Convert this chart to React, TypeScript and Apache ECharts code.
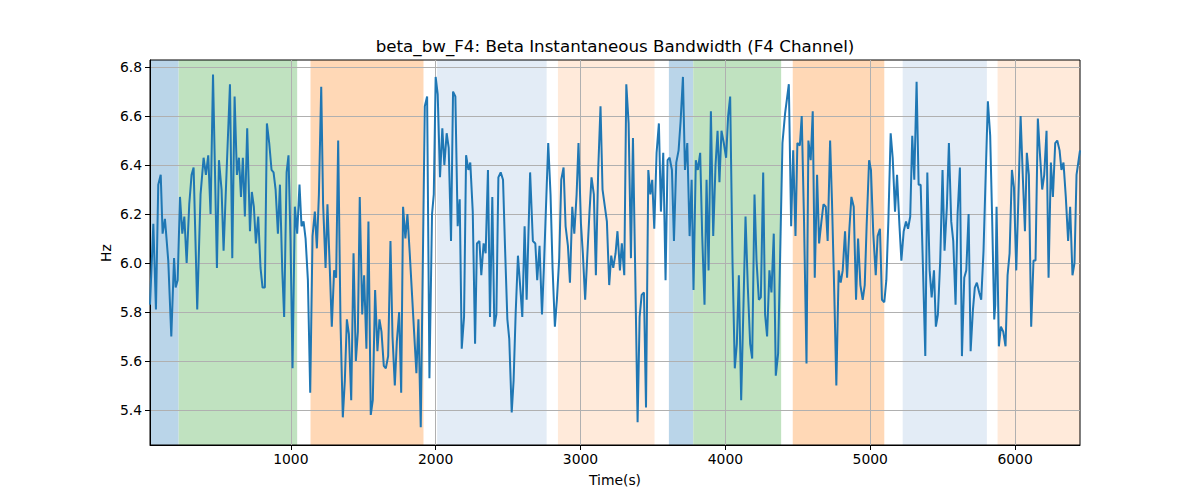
import React, { useEffect, useRef } from "react";
import * as echarts from "echarts";

const timeS = [
  28, 51, 69, 85, 102, 115, 131, 138, 154, 175, 194, 205, 219, 235, 251, 265, 281, 299, 315, 329, 354, 377, 398, 414, 430, 446, 463, 490, 504, 522, 536, 552, 580, 596, 612, 628, 642, 656, 669, 683,
  699, 718, 731, 745, 759, 775, 791, 805, 821, 835, 851, 867, 881, 895, 911, 925, 941, 954, 971, 984, 998, 1012, 1028, 1044, 1060, 1074, 1088, 1102, 1118, 1134, 1150, 1166, 1180, 1194, 1210, 1223, 1240, 1253, 1269, 1283, 1299, 1313, 1327,
  1343, 1359, 1373, 1387, 1401, 1417, 1433, 1449, 1463, 1476, 1493, 1506, 1522, 1536, 1552, 1566, 1582, 1598, 1612, 1626, 1642, 1656, 1672, 1688, 1702, 1718, 1732, 1748, 1762, 1775, 1791, 1805, 1821, 1837, 1851, 1867, 1881, 1897, 1925, 1941, 1957, 1975,
  1987, 2000, 2014, 2030, 2046, 2060, 2076, 2090, 2106, 2120, 2136, 2152, 2166, 2180, 2196, 2210, 2226, 2239, 2256, 2272, 2285, 2302, 2315, 2331, 2345, 2361, 2375, 2391, 2405, 2419, 2433, 2449, 2465, 2479, 2495, 2508, 2525, 2538, 2552, 2568, 2584, 2598, 2614, 2628,
  2652, 2671, 2688, 2701, 2717, 2734, 2747, 2777, 2793, 2807, 2823, 2837, 2853, 2867, 2883, 2897, 2913, 2927, 2943, 2957, 2973, 2986, 3003, 3016, 3032, 3046, 3062, 3076, 3092, 3106, 3122, 3138, 3152, 3168, 3182, 3198, 3212, 3226, 3242, 3255, 3272, 3285, 3302,
  3316, 3332, 3348, 3362, 3378, 3394, 3408, 3422, 3438, 3452, 3468, 3482, 3495, 3509, 3525, 3541, 3555, 3571, 3587, 3601, 3615, 3631, 3645, 3661, 3677, 3691, 3707, 3721, 3737, 3753, 3767, 3780, 3796, 3810, 3826, 3840, 3856, 3870, 3884, 3900, 3916, 3932, 3946,
  3959, 3973, 3989, 4005, 4019, 4033, 4049, 4065, 4079, 4093, 4109, 4125, 4139, 4155, 4171, 4185, 4201, 4215, 4231, 4245, 4261, 4274, 4288, 4304, 4318, 4334, 4348, 4364, 4394, 4412, 4438, 4454, 4468, 4484, 4497, 4514, 4527, 4543, 4560, 4573, 4589, 4603,
  4617, 4633, 4647, 4663, 4677, 4693, 4706, 4723, 4736, 4752, 4766, 4782, 4796, 4810, 4826, 4840, 4856, 4870, 4886, 4902, 4916, 4932, 4948, 4962, 4975, 4992, 5005, 5021, 5038, 5051, 5067, 5081, 5097, 5111, 5125, 5141, 5155, 5171, 5185, 5201, 5215, 5231, 5247, 5261,
  5276, 5290, 5304, 5320, 5334, 5348, 5364, 5380, 5394, 5410, 5424, 5440, 5453, 5467, 5483, 5499, 5513, 5529, 5543, 5559, 5573, 5589, 5603, 5619, 5633, 5649, 5663, 5679, 5693, 5709, 5722, 5736, 5752, 5766, 5782, 5798, 5812, 5828, 5842, 5856, 5863, 5872, 5888, 5902, 5918,
  5934, 5948, 5962, 5978, 5992, 6008, 6022, 6038, 6054, 6068, 6081, 6095, 6111, 6127, 6141, 6157, 6171, 6187, 6201, 6217, 6231, 6247, 6261, 6277, 6291, 6307, 6320, 6334, 6350, 6366, 6380, 6396, 6410, 6424, 6448,
];

const bwHz = [
  5.83, 6.16, 5.81, 6.32, 6.36, 6.12, 6.18, 6.13, 6.01, 5.70, 6.02, 5.90, 5.93, 6.27, 6.12, 6.19, 6.00, 6.24, 6.36, 6.39, 5.81, 6.28, 6.43, 6.36, 6.44, 6.20, 6.77, 5.98, 6.42, 6.30, 6.05, 6.30, 6.73, 6.02, 6.68, 6.36, 6.43, 6.27, 6.43, 6.19,
  6.55, 6.13, 6.29, 6.23, 6.08, 6.19, 5.98, 5.90, 5.90, 6.57, 6.49, 6.38, 6.37, 6.30, 6.12, 6.32, 5.97, 5.78, 6.37, 6.44, 6.09, 5.57, 6.23, 6.12, 6.32, 6.15, 6.17, 6.10, 5.93, 5.47, 6.11, 6.21, 6.06, 6.28, 6.72, 6.24, 5.98, 6.24, 5.98, 5.74, 5.97, 5.94, 6.50,
  5.76, 5.37, 5.52, 5.77, 5.71, 5.44, 6.04, 5.60, 5.72, 6.27, 5.79, 5.95, 5.65, 6.17, 5.38, 5.44, 5.89, 5.64, 5.77, 5.72, 5.58, 5.57, 5.62, 6.09, 5.70, 5.50, 5.68, 5.80, 5.47, 6.23, 6.10, 6.20, 6.04, 5.87, 5.72, 5.55, 5.77, 5.33, 6.64, 6.68, 5.53, 6.20,
  6.28, 6.76, 6.69, 6.35, 6.55, 6.40, 6.53, 6.47, 6.09, 6.70, 6.68, 6.15, 6.26, 5.65, 5.78, 6.44, 6.38, 6.41, 6.21, 5.67, 6.08, 6.09, 5.95, 6.08, 6.04, 6.38, 5.78, 6.27, 5.74, 5.79, 6.35, 6.37, 6.34, 6.06, 5.77, 5.69, 5.39, 5.52, 5.79, 6.03, 5.90, 5.78, 6.15, 5.85,
  6.37, 6.09, 6.08, 5.93, 6.07, 5.79, 5.98, 6.49, 6.28, 5.98, 5.74, 5.85, 6.02, 6.34, 6.39, 6.15, 6.07, 5.92, 6.23, 6.12, 6.28, 6.49, 6.16, 6.04, 5.85, 6.02, 6.21, 6.35, 6.28, 5.95, 6.38, 6.64, 6.30, 6.23, 6.17, 5.91, 6.03, 5.98, 6.04, 6.13, 5.97, 6.08, 5.95,
  6.73, 6.57, 6.02, 6.51, 5.95, 5.35, 5.78, 5.87, 5.88, 5.41, 6.38, 6.28, 6.34, 6.14, 6.45, 6.57, 6.21, 6.45, 5.93, 6.42, 6.43, 6.38, 6.09, 6.41, 6.46, 6.58, 6.76, 6.38, 6.49, 6.11, 6.34, 5.89, 6.42, 6.38, 6.45, 6.11, 5.83, 6.34, 5.97, 6.62, 6.11, 6.40, 6.54,
  6.33, 6.54, 6.49, 6.43, 6.60, 6.68, 6.01, 5.57, 5.67, 5.95, 5.44, 5.83, 6.19, 5.90, 5.67, 5.61, 6.28, 6.01, 5.85, 5.86, 6.37, 5.79, 5.70, 5.97, 5.88, 6.12, 5.54, 5.63, 6.49, 6.61, 6.73, 6.15, 6.46, 6.11, 6.49, 6.48, 6.60, 6.17, 5.59, 6.50, 6.42, 6.62,
  5.94, 6.36, 6.08, 6.17, 6.24, 6.23, 6.09, 6.50, 6.25, 5.87, 5.50, 5.97, 5.92, 5.97, 6.13, 5.94, 6.14, 6.27, 6.23, 5.85, 6.10, 5.91, 5.85, 5.91, 6.15, 6.42, 6.38, 6.12, 5.95, 6.11, 6.14, 5.85, 5.84, 5.93, 6.17, 6.53, 6.43, 6.21, 6.36, 6.16, 6.01, 6.13, 6.17, 6.14,
  6.19, 6.52, 6.34, 6.74, 6.32, 6.32, 5.98, 5.62, 6.37, 5.97, 5.86, 5.97, 5.74, 5.79, 6.01, 6.38, 6.05, 6.23, 6.49, 6.17, 6.09, 5.83, 6.20, 6.39, 5.62, 5.94, 5.97, 6.20, 5.64, 5.81, 5.90, 5.92, 5.88, 5.85, 6.05, 6.38, 6.66, 6.52, 6.17, 5.77, 5.83, 6.23, 5.66, 5.74, 5.72,
  5.66, 5.95, 6.04, 6.38, 6.31, 5.97, 6.25, 6.60, 6.34, 6.13, 6.45, 6.36, 5.74, 6.01, 6.01, 6.59, 6.45, 6.30, 6.36, 6.54, 5.94, 6.41, 6.27, 6.49, 6.50, 6.46, 6.38, 6.41, 6.27, 6.09, 6.23, 5.95, 6.00, 6.36, 6.46,
];

const bandStart = [28, 226, 1136, 2010, 2844, 3610, 3778, 4465, 5224, 5879];
const bandEnd = [226, 1044, 1916, 2766, 3511, 3778, 4385, 5097, 5805, 6448];
const bandColor = [
  "#bad5e9", "#c0e2c0", "#ffd8b6", "#e3ecf6", "#ffeada",
  "#bad5e9", "#c0e2c0", "#ffd8b6", "#e3ecf6", "#ffeada",
];

const xTicks = [1000, 2000, 3000, 4000, 5000, 6000];
const yTicks = [5.4, 5.6, 5.8, 6.0, 6.2, 6.4, 6.6, 6.8];

const X_MIN = 28;
const X_MAX = 6448;
const Y_MIN = 5.257;
const Y_MAX = 6.829;

const FONT = "DejaVu Sans";

export default function App() {
  const ref = useRef<HTMLDivElement>(null);

  useEffect(() => {
    if (!ref.current) return;
    const chart = echarts.init(ref.current, null, { renderer: "svg" });
    const lineData = timeS.map((t, i) => [t, bwHz[i]]);
    const areas = bandStart.map((s, i) => [
      { xAxis: s, itemStyle: { color: bandColor[i], opacity: 1 } },
      { xAxis: bandEnd[i] },
    ]);

    chart.setOption({
      animation: false,
      textStyle: { fontFamily: FONT },
      grid: {
        left: 150,
        right: 120,
        top: 60,
        bottom: 55,
        show: true,
        borderColor: "#000",
        borderWidth: 1,
        backgroundColor: "transparent",
        z: 2,
      },
      graphic: [
        {
          type: "text",
          x: 615,
          y: 46,
          z: 10,
          style: {
            text: "beta_bw_F4: Beta Instantaneous Bandwidth (F4 Channel)",
            fontFamily: FONT,
            fontSize: 16.7,
            fill: "#000",
            textAlign: "center",
            textVerticalAlign: "middle",
          },
        },
        {
          type: "text",
          x: 106,
          y: 253,
          rotation: Math.PI / 2,
          z: 10,
          style: {
            text: "Hz",
            fontFamily: FONT,
            fontSize: 13.9,
            fill: "#000",
            textAlign: "center",
            textVerticalAlign: "middle",
          },
        },
      ],
      xAxis: {
        type: "value",
        min: X_MIN,
        max: X_MAX,
        z: 2,
        name: "Time(s)",
        nameLocation: "middle",
        nameGap: 28,
        nameTextStyle: { fontFamily: FONT, fontSize: 13.9, color: "#000" },
        axisLine: { show: true, onZero: false, lineStyle: { color: "#000", width: 1 } },
        axisTick: { show: true, length: 5, customValues: xTicks, lineStyle: { color: "#000", width: 1 } },
        axisLabel: {
          customValues: xTicks,
          margin: 7,
          color: "#000",
          fontFamily: FONT,
          fontSize: 13.9,
          formatter: (v: number) => String(Math.round(v)),
        },
        splitLine: { show: true, lineStyle: { color: "#b0b0b0", width: 1 } },
      },
      yAxis: {
        type: "value",
        min: Y_MIN,
        max: Y_MAX,
        z: 2,
        axisLine: { show: true, onZero: false, lineStyle: { color: "#000", width: 1 } },
        axisTick: { show: true, length: 5, customValues: yTicks, lineStyle: { color: "#000", width: 1 } },
        axisLabel: {
          customValues: yTicks,
          margin: 8,
          color: "#000",
          fontFamily: FONT,
          fontSize: 13.9,
          formatter: (v: number) => v.toFixed(1),
        },
        splitLine: { show: true, lineStyle: { color: "#b0b0b0", width: 1 } },
      },
      series: [
        {
          type: "line",
          data: [],
          z: 1,
          silent: true,
          markArea: { silent: true, data: areas },
        },
        {
          type: "line",
          data: lineData,
          z: 3,
          symbol: "none",
          showSymbol: false,
          silent: true,
          lineStyle: { color: "#1f77b4", width: 2 },
        },
      ],
    });
    return () => chart.dispose();
  }, []);

  return (
    <div
      ref={ref}
      style={{ position: "absolute", left: 0, top: 0, width: 1200, height: 500 }}
    />
  );
}
